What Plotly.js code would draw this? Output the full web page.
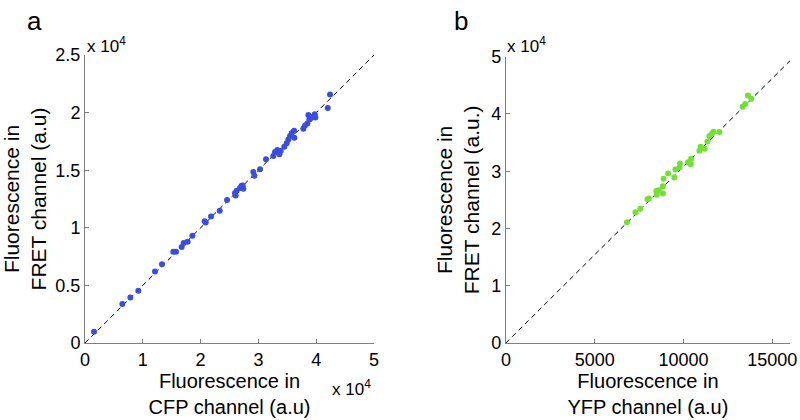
<!DOCTYPE html>
<html>
<head>
<meta charset="utf-8">
<script src="https://cdn.plot.ly/plotly-3.0.1.min.js"></script>
<style>html,body{margin:0;padding:0;background:#fff;}#chart{width:800px;height:420px;}</style>
</head>
<body>
<div id="chart"></div>
<script>
// Panel a: CFP vs FRET
const cfpX = [1560,6460,7850,9230,12110,13320,15280,15740,16720,17070,17760,18570,20700,20880,21800,23300,24570,25950,26070,26240,26820,27100,27280,27390,29120,29300,30280,31310,32580,32870,33270,33620,33850,34480,34890,35180,35470,35760,36160,36220,37770,38060,38460,38640,38810,39040,39390,39740,39850,41990,42390];
const fretA = [970,3390,3960,4540,6210,6840,7930,7930,8330,8670,8790,9310,10570,10460,10980,11490,12410,13020,12810,13220,13450,13650,13670,13390,14850,14510,15080,15950,16230,16580,16750,16380,16660,17030,17330,17670,17960,18240,18420,17810,18590,18880,19050,19790,19400,19510,19620,19850,19570,20400,21580];
const fitAX = [0, 50000];
const fitAY = [0, 25000];

// Panel b: YFP vs FRET
const yfpX = [6820,7300,7570,7980,8050,8500,8470,8610,8840,8840,8880,9140,9490,9550,9780,9810,10260,10410,10430,10900,10970,11200,11350,11460,11610,11690,12020,13330,13480,13630,13820];
const fretB = [21100,22850,23430,25120,25240,25880,26570,26700,26120,27390,28670,29610,28910,30310,30660,31360,31590,31240,32170,33570,34270,33920,35210,36140,36610,36900,36840,41260,41730,43250,42660];
const fitBX = [0, 16000];
const fitBY = [0, 49300];

// Tick labels
const tickAX = [0,10000,20000,30000,40000,50000];
const tickAXText = ['0','1','2','3','4','5'];
const tickAY = [0,5000,10000,15000,20000,25000];
const tickAYText = ['0','0.5','1','1.5','2','2.5'];
const tickBX = [0,5000,10000,15000];
const tickBXText = ['0','5000','10000','15000'];
const tickBY = [0,10000,20000,30000,40000,50000];
const tickBYText = ['0','1','2','3','4','5'];

const FONT = 'Liberation Sans, Arial, sans-serif';
const axColor = '#808080';

function axis(extra){
  return Object.assign({
    showline:true, linecolor:axColor, linewidth:1, mirror:false,
    showgrid:false, zeroline:false,
    ticks:'inside', ticklen:4, tickcolor:axColor, tickwidth:1,
    tickfont:{family:FONT, size:18, color:'#000'},
    tickmode:'array', fixedrange:true
  }, extra);
}

const traces = [
  {x:fitAX, y:fitAY, xaxis:'x', yaxis:'y', mode:'lines', line:{color:'#000', width:1, dash:'5px,4px'}, hoverinfo:'skip'},
  {x:cfpX, y:fretA, xaxis:'x', yaxis:'y', mode:'markers', marker:{color:'#3a4ede', size:6}},
  {x:fitBX, y:fitBY, xaxis:'x2', yaxis:'y2', mode:'lines', line:{color:'#000', width:1, dash:'5px,4px'}, hoverinfo:'skip'},
  {x:yfpX, y:fretB, xaxis:'x2', yaxis:'y2', mode:'markers', marker:{color:'#72e232', size:6}}
];

const yTitleFont = {family:FONT, size:21, color:'#000'};
const xTitleFont = {family:FONT, size:20, color:'#000'};

const layout = {
  width:800, height:420,
  margin:{l:85, r:10, t:55, b:77},
  paper_bgcolor:'#fff', plot_bgcolor:'#fff',
  showlegend:false,
  font:{family:FONT, color:'#000'},
  xaxis: axis({domain:[0,0.41], range:[0,50000], anchor:'y', tickvals:tickAX, ticktext:tickAXText, ticklabelstandoff:0,
    title:{text:'Fluorescence in<br>CFP channel (a.u)', font:xTitleFont, standoff:0}}),
  yaxis: axis({domain:[0,1], range:[0,25000], anchor:'x', tickvals:tickAY, ticktext:tickAYText,
    title:{text:'Fluorescence in<br>FRET channel (a.u)', font:yTitleFont, standoff:10}}),
  xaxis2: axis({domain:[0.597,1], range:[0,16000], anchor:'y2', tickvals:tickBX, ticktext:tickBXText, ticklabelstandoff:0,
    title:{text:'Fluorescence in<br>YFP channel (a.u)', font:xTitleFont, standoff:0}}),
  yaxis2: axis({domain:[0,0.994], range:[0,50000], anchor:'x2', tickvals:tickBY, ticktext:tickBYText,
    title:{text:'Fluorescence in<br>FRET channel (a.u.)', font:yTitleFont, standoff:5}}),
  annotations:[
    {text:'a', xref:'paper', yref:'paper', x:-0.0851, y:1.118, xanchor:'left', yanchor:'middle', showarrow:false, font:{family:FONT, size:26, color:'#000'}},
    {text:'b', xref:'paper', yref:'paper', x:0.521, y:1.118, xanchor:'left', yanchor:'middle', showarrow:false, font:{family:FONT, size:26, color:'#000'}},
    {text:'x 10<sup>4</sup>', xref:'paper', yref:'paper', x:0, y:0.99, xanchor:'left', yanchor:'bottom', showarrow:false, font:{family:FONT, size:17, color:'#000'}},
    {text:'x 10<sup>4</sup>', xref:'paper', yref:'paper', x:0.5957, y:0.99, xanchor:'left', yanchor:'bottom', showarrow:false, font:{family:FONT, size:17, color:'#000'}},
    {text:'x 10<sup>4</sup>', xref:'paper', yref:'paper', x:0.3475, y:-0.2, xanchor:'left', yanchor:'bottom', showarrow:false, font:{family:FONT, size:17, color:'#000'}}
  ]
};

Plotly.newPlot('chart', traces, layout, {displayModeBar:false, staticPlot:true});
</script>
</body>
</html>
